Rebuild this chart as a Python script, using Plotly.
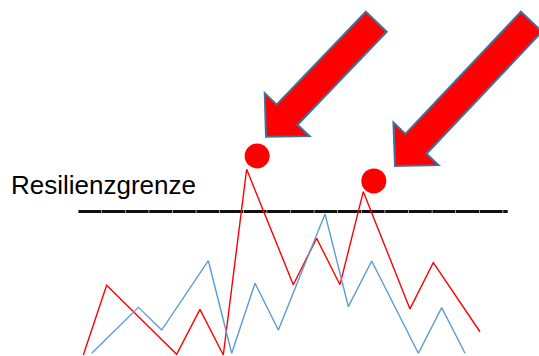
import math
import plotly.graph_objects as go

# ---- data -------------------------------------------------------------
# red series (vertices of the polyline, x = time step)
red_x = [0, 1, 4, 5, 6, 7, 9, 10, 11, 12, 14, 15, 17]
red_y = [0.0, 4.86, 0.05, 3.18, 0.0, 12.94, 4.90, 8.13, 4.90, 11.38, 3.21, 6.43, 1.62]

# blue series (own time axis, slightly shifted)
blue_x = [0, 2, 3, 5, 6, 7, 8, 10, 11, 12, 14, 15, 16]
blue_y = [0.12, 3.32, 1.74, 6.57, 0.12, 5.00, 1.74, 9.83, 3.37, 6.55, 0.12, 3.30, 0.12]

# resilience threshold
threshold = 10.0
threshold_label = "Resilienzgrenze"
threshold_x = [-0.21, 18.19]

# highlighted exceedances
hit_x = [7.45, 12.45]
hit_y = [13.87, 12.13]

W, H = 539, 356
RED = "#FF0000"
BLUE = "#5B9BD5"

fig = go.Figure()

fig.add_trace(go.Scatter(
    x=threshold_x, y=[threshold] * len(threshold_x), mode="lines",
    line=dict(color="#111111", width=3, dash="23px,0.6px"),
    hoverinfo="skip", showlegend=False))

fig.add_trace(go.Scatter(
    x=blue_x, y=blue_y, mode="lines", xaxis="x2",
    line=dict(color=BLUE, width=1.4), showlegend=False))

fig.add_trace(go.Scatter(
    x=red_x, y=red_y, mode="lines",
    line=dict(color=RED, width=1.4), showlegend=False))

fig.add_trace(go.Scatter(
    x=hit_x, y=hit_y, mode="markers",
    marker=dict(color=RED, size=25, line=dict(width=0)), showlegend=False))


# block arrows pointing down-left at the exceedances (pixel geometry)
def block_arrow(tip, angle_deg, length, head_len=30.5, head_half=31, shaft_half=14.5):
    a = math.radians(angle_deg)
    u = (math.cos(a), -math.sin(a))       # from tip towards tail (screen coords)
    p = (math.sin(a), math.cos(a))        # perpendicular
    tx, ty = tip
    hb = (tx + u[0] * head_len, ty + u[1] * head_len)
    tl = (tx + u[0] * length, ty + u[1] * length)
    pts = [
        (hb[0] - p[0] * head_half, hb[1] - p[1] * head_half),
        (hb[0] - p[0] * shaft_half, hb[1] - p[1] * shaft_half),
        (tl[0] - p[0] * shaft_half, tl[1] - p[1] * shaft_half),
        (tl[0] + p[0] * shaft_half, tl[1] + p[1] * shaft_half),
        (hb[0] + p[0] * shaft_half, hb[1] + p[1] * shaft_half),
        (hb[0] + p[0] * head_half, hb[1] + p[1] * head_half),
        (tx, ty),
    ]
    d = "M " + " L ".join(f"{x / W:.5f},{1 - y / H:.5f}" for x, y in pts) + " Z"
    return dict(type="path", xref="paper", yref="paper", path=d,
                fillcolor=RED, line=dict(color="#41719C", width=2), layer="above")


fig.update_layout(
    width=W, height=H,
    margin=dict(l=0, r=0, t=0, b=0),
    paper_bgcolor="white", plot_bgcolor="white",
    xaxis=dict(range=[-3.57, 19.53], visible=False, fixedrange=True),
    xaxis2=dict(range=[-3.93, 19.17], visible=False, overlaying="x", fixedrange=True),
    yaxis=dict(range=[-0.07, 24.74], visible=False, fixedrange=True),
    shapes=[
        block_arrow((266, 136.7), 46.2, 159.3),
        block_arrow((395, 166), 46.6, 198.6),
    ],
    annotations=[dict(
        text=threshold_label, xref="paper", yref="paper",
        x=9 / W, y=1 - 185 / H, xanchor="left", yanchor="middle",
        showarrow=False,
        font=dict(family="Liberation Sans, Arial, sans-serif", size=26, color="#000000"),
    )],
)

fig.write_html("out.html")
